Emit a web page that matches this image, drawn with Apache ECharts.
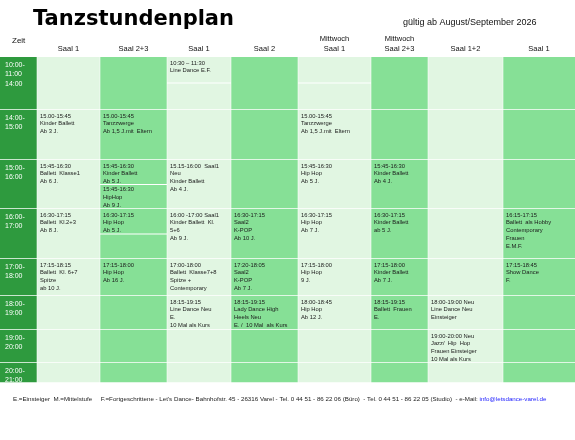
<!DOCTYPE html>
<html><head><meta charset="utf-8">
<script src="https://cdn.jsdelivr.net/npm/echarts@6/dist/echarts.min.js"></script>
<style>html,body{margin:0;padding:0;background:#fff}#c{width:575px;height:440px}</style>
</head><body><div id="c"></div>
<script>
// ---- data ----
const columns = ["Zeit","Saal 1","Saal 2+3","Saal 1","Saal 2","Mittwoch\nSaal 1","Mittwoch\nSaal 2+3","Saal 1+2","Saal 1"];
const timeSlots = ["10:00-\n11:00\n14:00","14:00-\n15:00","15:00-\n16:00","16:00-\n17:00","17:00-\n18:00","18:00-\n19:00","19:00-\n20:00","20:00-\n21:00"];
// [column, row, sub-block, text]
const entries = [
 [3,0,0,"10:30 – 11:30\nLine Dance E.F."],
 [1,1,0,"15.00-15:45\nKinder Ballett\nAb 3 J."],
 [2,1,0,"15.00-15:45\nTanzzwerge\nAb 1,5 J.mit  Eltern"],
 [5,1,0,"15.00-15:45\nTanzzwerge\nAb 1,5 J.mit  Eltern"],
 [1,2,0,"15:45-16:30\nBallett  Klasse1\nAb 6 J."],
 [2,2,0,"15:45-16:30\nKinder Ballett\nAb 5 J."],
 [2,2,1,"15:45-16:30\nHipHop\nAb 9 J."],
 [3,2,0,"15.15-16:00  Saal1\nNeu\nKinder Ballett\nAb 4 J."],
 [5,2,0,"15:45-16:30\nHip Hop\nAb 5 J."],
 [6,2,0,"15:45-16:30\nKinder Ballett\nAb 4 J."],
 [1,3,0,"16:30-17:15\nBallett  Kl.2+3\nAb 8 J."],
 [2,3,0,"16:30-17:15\nHip Hop\nAb 5 J."],
 [3,3,0,"16:00 -17:00 Saal1\nKinder Ballett  Kl.\n5+6\nAb 9 J."],
 [4,3,0,"16:30-17:15\nSaal2\nK-POP\nAb 10 J."],
 [5,3,0,"16:30-17:15\nHip Hop\nAb 7 J."],
 [6,3,0,"16:30-17:15\nKinder Ballett\nab 5 J."],
 [8,3,0,"16:15-17:15\nBallett  als Hobby\nContemporary\nFrauen\nE.M.F."],
 [1,4,0,"17:15-18:15\nBallett  Kl. 6+7\nSpitze\nab 10 J."],
 [2,4,0,"17:15-18:00\nHip Hop\nAb 16 J."],
 [3,4,0,"17:00-18:00\nBallett  Klasse7+8\nSpitze +\nContemporary"],
 [4,4,0,"17:20-18:05\nSaal2\nK-POP\nAb 7 J."],
 [5,4,0,"17:15-18:00\nHip Hop\n9 J."],
 [6,4,0,"17:15-18:00\nKinder Ballett\nAb 7 J."],
 [8,4,0,"17:15-18:45\nShow Dance\nF."],
 [3,5,0,"18:15-19:15\nLine Dance Neu\nE.\n10 Mal als Kurs"],
 [4,5,0,"18:15-19:15\nLady Dance High\nHeels Neu\nE. /  10 Mal  als Kurs"],
 [5,5,0,"18:00-18:45\nHip Hop\nAb 12 J."],
 [6,5,0,"18:15-19:15\nBallett  Frauen\nE."],
 [7,5,0,"18:00-19:00 Neu\nLine Dance Neu\nEinsteiger"],
 [7,6,0,"19:00-20:00 Neu\nJazz/  Hip  Hop\nFrauen Einsteiger\n10 Mal als Kurs"]
];
// cells split into sub-blocks: [column, row, split offset fraction]
const splits = [[3,0,0.49],[5,0,0.49],[2,2,0.5],[2,3,0.5]];

// ---- layout ----
const colEdges = [0,37,100,167,231,298,371,428,503,575];
const rowEdges = [0,53,103,152,202,239,273,306,326];
const colColors = ["#2e9a3e","#e1f6e2","#86e096","#e1f6e2","#86e096","#e1f6e2","#86e096","#e1f6e2","#86e096"];

const chart = echarts.init(document.getElementById('c'));
function rectOf(api,c,r){
  const p0 = api.coord([colEdges[c], rowEdges[r]]);
  const p1 = api.coord([colEdges[c+1], rowEdges[r+1]]);
  return {x:p0[0], y:p0[1], w:p1[0]-p0[0], h:p1[1]-p0[1]};
}
const bgData = [];
for (let c=0;c<columns.length;c++) for (let r=0;r<timeSlots.length;r++) bgData.push([c,r]);

chart.setOption({
  animation:false,
  grid:{left:0,right:0,top:57,bottom:57},
  xAxis:{type:'value',min:0,max:575,show:false},
  yAxis:{type:'value',min:0,max:326,inverse:true,show:false},
  graphic:[
    {type:'text',left:33,top:9,style:{text:'Tanzstundenplan',font:'900 21px "DejaVu Sans"',fill:'#000'}},
    {type:'text',left:403,top:18,style:{text:'gültig ab August/September 2026',font:'9px "Liberation Sans"',fill:'#111'}},
    {type:'text',left:12,top:37,style:{text:'Zeit',font:'8px "Liberation Sans"',fill:'#111'}},
    {type:'text',left:13,top:396,style:{
      text:"E.=Einsteiger  M.=Mittelstufe     F.=Fortgeschrittene - Let's Dance- Bahnhofstr. 45 - 26316 Varel - Tel. 0 44 51 - 86 22 06 (Büro)  - Tel. 0 44 51 - 86 22 05 (Studio)  - e-Mail: {m|info@letsdance-varel.de}",
      font:'6.2px "Liberation Sans"',fill:'#222',
      rich:{m:{fill:'#1a1aff',font:'6.2px "Liberation Sans"'}}}}
  ],
  series:[
    {type:'custom',coordinateSystem:'cartesian2d',data:bgData,
     renderItem:(params,api)=>{
       const c=api.value(0), r=api.value(1);
       const b=rectOf(api,c,r);
       const ch=[{type:'rect',shape:{x:b.x,y:b.y,width:b.w,height:b.h},style:{fill:colColors[c]}},
                 {type:'rect',shape:{x:b.x,y:b.y+b.h-0.8,width:b.w,height:1.6},style:{fill:'#ffffff'}}];
       if (c>0) ch.push({type:'rect',shape:{x:b.x-0.4,y:b.y,width:0.8,height:b.h},style:{fill:'#ffffff',opacity:0.7}});
       splits.forEach(s=>{ if(s[0]===c&&s[1]===r) ch.push({type:'rect',shape:{x:b.x,y:b.y+b.h*s[2]-0.5,width:b.w,height:1},style:{fill:'#ffffff'}}); });
       if (c===0) ch.push({type:'text',style:{x:b.x+5,y:b.y+3,text:timeSlots[r],fill:'#fff',font:'7px "Liberation Sans"',lineHeight:9.5}});
       if (r===0 && c>0) ch.push({type:'text',style:{x:b.x+b.w/2,y:b.y-3,text:columns[c],fill:'#111',font:'7.5px "Liberation Sans"',align:'center',verticalAlign:'bottom',lineHeight:10}});
       return {type:'group',children:ch};
     }},
    {type:'custom',coordinateSystem:'cartesian2d',data:entries,z:3,
     renderItem:(params,api)=>{
       const e=entries[params.dataIndex];
       const b=rectOf(api,e[0],e[1]);
       let top=b.y+2;
       if (e[2]===1){ const s=splits.find(s=>s[0]===e[0]&&s[1]===e[1]); top=b.y+b.h*s[2]+1; }
       return {type:'text',style:{x:b.x+3,y:top,text:e[3],fill:'#1a1a1a',font:'5.8px "Liberation Sans"',lineHeight:7.8}};
     }}
  ]
});
</script></body></html>
